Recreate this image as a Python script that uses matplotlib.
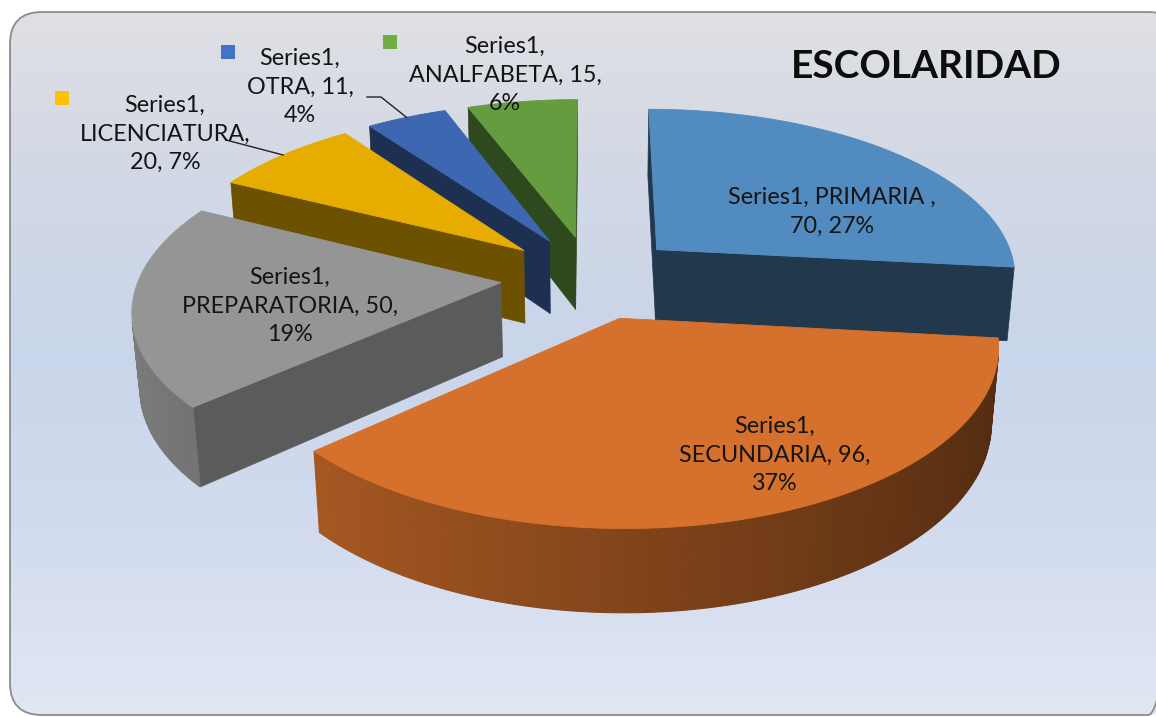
import numpy as np
import matplotlib.pyplot as plt
from matplotlib.patches import Polygon, FancyBboxPatch
from matplotlib.colors import to_rgb, LinearSegmentedColormap

# data
categories = ['PRIMARIA ', 'SECUNDARIA', 'PREPARATORIA', 'LICENCIATURA', 'OTRA', 'ANALFABETA']
values = [70, 96, 50, 20, 11, 15]
pct_labels = ['27%', '37%', '19%', '7%', '4%', '6%']
series_name = 'Series1'
title = 'ESCOLARIDAD'
colors = ['#5B9BD5', '#ED7D31', '#A5A5A5', '#FFC000', '#4472C4', '#70AD47']

# how each data label wraps (groups of: series, category, value, percent)
label_lines = [[[0, 1], [2, 3]], [[0], [1, 2], [3]], [[0], [1, 2], [3]],
               [[0], [1], [2, 3]], [[0], [1, 2], [3]], [[0], [1, 2], [3]]]
label_pos = [(832, 212), (775, 455), (290, 306), (165, 134), (300, 87), (505, 75)]
outside = [False, False, False, True, True, True]
key_pos = {3: (62, 98), 4: (228, 52), 5: (390, 42)}
leader_from = {3: (226, 140), 4: (367, 97)}
cut_k = [0.36, 0.42, 0.55, 0.42, 0.42, 0.42]

# 3d view
W, H = 1156, 717
cx, cy = 591, 277
f, D = 2260.0, 6.25
phi = np.radians(27.6)
sphi, cphi = np.sin(phi), np.cos(phi)
depth = 0.235
explode = 0.25

plt.rcParams['font.family'] = ['Lato', 'DejaVu Sans']


def project(u, v, z):
    w = D + v * cphi - z * sphi
    return cx + f * u / w, cy - f * (v * sphi + z * cphi) / w


def shade(col, k):
    r, g, b = to_rgb(col)
    return (min(r * k, 1), min(g * k, 1), min(b * k, 1))


def wall_k(theta):
    return 0.55 + 0.2 * np.cos(theta - np.pi)


fig = plt.figure(figsize=(W / 100, H / 100), dpi=100)
ax = fig.add_axes([0, 0, 1, 1])
ax.set_xlim(0, W)
ax.set_ylim(H, 0)
ax.axis('off')

# background panel with vertical gradient
frame = FancyBboxPatch((10, 12), 1170, 703, boxstyle='round,pad=0,rounding_size=32',
                       facecolor='none', edgecolor='#8c8c8c', lw=1.3, zorder=5)
ax.add_patch(frame)
bg = LinearSegmentedColormap.from_list('bg', [(0, '#dfe0e4'), (0.2, '#d4d9e5'), (0.48, '#c9d5ea'),
                                              (0.78, '#d4ddef'), (1, '#e1e7f3')])
grad = np.linspace(0, 1, 256).reshape(-1, 1)
im = ax.imshow(grad, cmap=bg, extent=[10, 1180, 715, 12], aspect='auto', zorder=0)
im.set_clip_path(frame)
ax.set_xlim(0, W)
ax.set_ylim(H, 0)

total = sum(values)
cam = np.array([0.0, -D * cphi])
slices = []
start = np.pi / 2
for i, val in enumerate(values):
    span = val / total * 2 * np.pi
    ts, te = start, start - span
    mid = (ts + te) / 2
    apex = explode * np.array([np.cos(mid), np.sin(mid)])
    pm = apex + 0.5 * np.array([np.cos(mid), np.sin(mid)])
    slices.append((i, ts, te, apex, D + pm[1] * cphi))
    start = te

slices.sort(key=lambda s: -s[4])
for z, (i, ts, te, apex, _) in enumerate(slices):
    col = colors[i]
    zo = 2 + z
    th = np.linspace(ts, te, 120)
    rx = apex[0] + np.cos(th)
    ry = apex[1] + np.sin(th)
    # radial cut faces
    for ang, nrm in ((ts, ts + np.pi / 2), (te, te - np.pi / 2)):
        n = np.array([np.cos(nrm), np.sin(nrm)])
        if np.dot(cam - apex, n) > 0:
            ex, ey = apex[0] + np.cos(ang), apex[1] + np.sin(ang)
            pts = [project(apex[0], apex[1], 0), project(ex, ey, 0),
                   project(ex, ey, -depth), project(apex[0], apex[1], -depth)]
            c = shade(col, cut_k[i])
            ax.add_patch(Polygon(pts, closed=True, facecolor=c, edgecolor=c, lw=0.5, zorder=zo))
    # outer wall
    for j in range(len(th) - 1):
        tm = (th[j] + th[j + 1]) / 2
        n = np.array([np.cos(tm), np.sin(tm)])
        p = apex + n
        if np.dot(cam - p, n) <= 0:
            continue
        c = shade(col, wall_k(tm))
        pts = [project(rx[j], ry[j], 0), project(rx[j + 1], ry[j + 1], 0),
               project(rx[j + 1], ry[j + 1], -depth), project(rx[j], ry[j], -depth)]
        ax.add_patch(Polygon(pts, closed=True, facecolor=c, edgecolor=c, lw=0.8, zorder=zo))
    # top face
    top = [project(apex[0], apex[1], 0)] + [project(a, b, 0) for a, b in zip(rx, ry)]
    ax.add_patch(Polygon(top, closed=True, facecolor=shade(col, 0.9),
                         edgecolor=shade(col, 0.9), lw=0.6, zorder=zo))
    # leader line ends at the rim of the slice
    if i in leader_from:
        mid = (ts + te) / 2
        ex, ey = project(apex[0] + np.cos(mid), apex[1] + np.sin(mid), 0)
        lx, ly = leader_from[i]
        if i == 4:
            ax.plot([lx, lx + 14, ex], [ly, ly, ey], color='#222222', lw=1, zorder=30)
        else:
            ax.plot([lx, ex], [ly, ey], color='#222222', lw=1, zorder=30)

# data labels
for i, cat in enumerate(categories):
    parts = [f'{series_name},', f'{cat},', f'{values[i]},', pct_labels[i]]
    text = '\n'.join(' '.join(parts[k] for k in grp) for grp in label_lines[i])
    x, y = label_pos[i]
    ax.text(x, y, text, ha='center', va='center', fontsize=16.8, color='#141414',
            linespacing=1.45, zorder=40)
    if outside[i]:
        kx, ky = key_pos[i]
        ax.add_patch(plt.Rectangle((kx - 7, ky - 7), 14, 14, facecolor=colors[i],
                                   edgecolor='none', zorder=40))

ax.text(926, 67, title, ha='center', va='center', fontsize=28, fontweight='bold',
        color='#0d0d0d', zorder=40)

fig.savefig('out.png', dpi=100)
